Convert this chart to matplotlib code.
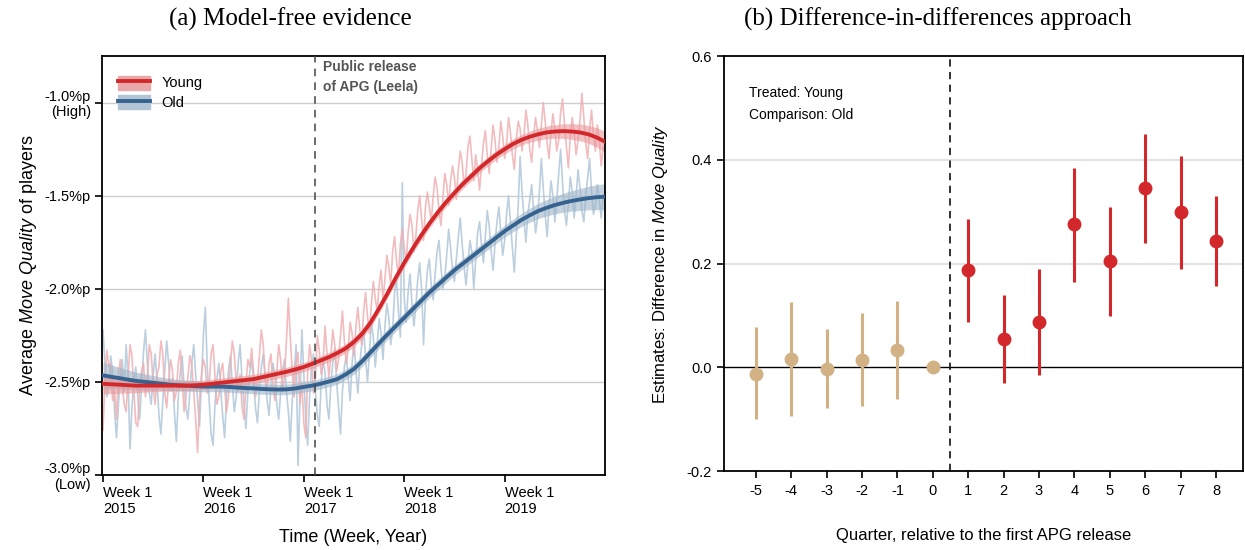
import numpy as np
import matplotlib
matplotlib.use('Agg')
import matplotlib.pyplot as plt
from matplotlib.patches import Patch
from matplotlib.lines import Line2D

plt.rcParams['font.family'] = ['Liberation Sans', 'DejaVu Sans']
plt.rcParams['mathtext.fontset'] = 'custom'
plt.rcParams['mathtext.rm'] = 'Liberation Sans'
plt.rcParams['mathtext.it'] = 'Liberation Sans:italic'

# ---- panel (a): weekly average move quality, 2015-2019 (one row per quarter) ----
young_weekly = [
    -2.76, -2.50, -2.33, -2.42, -2.40, -2.60, -2.55, -2.70, -2.45, -2.38, -2.52, -2.62, -2.66,
    -2.48, -2.30, -2.36, -2.55, -2.72, -2.74, -2.50, -2.44, -2.40, -2.58, -2.47, -2.30, -2.35,
    -2.52, -2.62, -2.46, -2.42, -2.28, -2.35, -2.56, -2.64, -2.50, -2.38, -2.44, -2.60, -2.55,
    -2.40, -2.33, -2.48, -2.66, -2.58, -2.47, -2.36, -2.41, -2.55, -2.70, -2.88, -2.60, -2.46,
    -2.38, -2.42, -2.56, -2.52, -2.35, -2.30, -2.47, -2.62, -2.58, -2.44, -2.40, -2.53, -2.66,
    -2.58, -2.40, -2.28, -2.35, -2.50, -2.55, -2.46, -2.63, -2.70, -2.52, -2.38, -2.42, -2.32,
    -2.45, -2.58, -2.50, -2.36, -2.22, -2.30, -2.48, -2.55, -2.40, -2.35, -2.52, -2.60, -2.45,
    -2.30, -2.38, -2.55, -2.47, -2.28, -2.05, -2.26, -2.44, -2.58, -2.40, -2.34, -2.62, -2.50,
    -2.72, -2.80, -2.45, -2.30, -2.38, -2.56, -2.48, -2.25, -2.33, -2.46, -2.40, -2.20, -2.35,
    -2.48, -2.36, -2.22, -2.30, -2.44, -2.38, -2.25, -2.12, -2.28, -2.40, -2.32, -2.18, -2.24,
    -2.36, -2.20, -2.10, -2.22, -2.30, -2.12, -2.02, -2.15, -2.24, -2.08, -1.96, -2.05, -2.12,
    -1.98, -1.90, -2.06, -1.95, -1.82, -1.88, -1.98, -1.80, -1.72, -1.85, -1.93, -1.76, -1.68,
    -1.78, -1.86, -1.70, -1.60, -1.66, -1.80, -1.72, -1.58, -1.50, -1.62, -1.74, -1.56, -1.48,
    -1.56, -1.64, -1.50, -1.40, -1.46, -1.58, -1.66, -1.52, -1.38, -1.44, -1.55, -1.42, -1.34,
    -1.40, -1.52, -1.36, -1.26, -1.32, -1.45, -1.38, -1.24, -1.18, -1.30, -1.42, -1.28, -1.36,
    -1.47, -1.34, -1.22, -1.15, -1.28, -1.38, -1.25, -1.12, -1.20, -1.32, -1.24, -1.10, -1.18,
    -1.30, -1.22, -1.08, -1.16, -1.28, -1.36, -1.20, -1.10, -1.14, -1.26, -1.18, -1.04, -1.12,
    -1.25, -1.32, -1.18, -1.08, -1.15, -1.24, -1.12, -1.00, -1.10, -1.22, -1.30, -1.16, -1.06,
    -1.14, -1.26, -1.20, -1.05, -0.98, -1.12, -1.24, -1.35, -1.18, -1.08, -1.16, -1.28, -1.20,
    -1.10, -0.95, -1.08, -1.22, -1.30, -1.14, -1.04, -1.18, -1.26, -1.12, -1.20, -1.34, -1.24,
]
old_weekly = [
    -2.22, -2.40, -2.58, -2.52, -2.36, -2.44, -2.66, -2.80, -2.62, -2.45, -2.38, -2.55, -2.30,
    -2.48, -2.86, -2.64, -2.50, -2.42, -2.58, -2.70, -2.52, -2.34, -2.22, -2.40, -2.56, -2.62,
    -2.46, -2.35, -2.50, -2.68, -2.78, -2.60, -2.44, -2.28, -2.40, -2.55, -2.48, -2.66, -2.82,
    -2.58, -2.45, -2.36, -2.52, -2.64, -2.70, -2.55, -2.40, -2.30, -2.46, -2.60, -2.74, -2.50,
    -2.25, -2.10, -2.42, -2.60, -2.78, -2.84, -2.62, -2.48, -2.40, -2.55, -2.68, -2.80, -2.58,
    -2.44, -2.36, -2.52, -2.66, -2.58, -2.40, -2.30, -2.48, -2.62, -2.75, -2.56, -2.45, -2.38,
    -2.50, -2.64, -2.72, -2.55, -2.42, -2.35, -2.48, -2.60, -2.68, -2.52, -2.40, -2.46, -2.62,
    -2.70, -2.56, -2.44, -2.38, -2.55, -2.66, -2.82, -2.60, -2.46, -2.30, -2.95, -2.58, -2.22,
    -2.46, -2.70, -2.84, -2.58, -2.42, -2.35, -2.55, -2.68, -2.74, -2.50, -2.38, -2.45, -2.62,
    -2.70, -2.52, -2.40, -2.32, -2.50, -2.64, -2.78, -2.55, -2.42, -2.36, -2.48, -2.60, -2.40,
    -2.28, -2.44, -2.56, -2.40, -2.30, -2.22, -2.38, -2.50, -2.34, -2.18, -2.26, -2.42, -2.30,
    -2.16, -2.24, -2.38, -2.20, -2.08, -2.15, -2.30, -2.22, -2.02, -1.95, -2.12, -2.26, -1.43,
    -2.05, -2.18, -2.02, -1.92, -2.08, -2.20, -2.10, -1.95, -1.86, -2.00, -2.30, -2.04, -1.90,
    -1.84, -1.98, -2.06, -1.92, -1.80, -1.74, -1.88, -2.00, -1.94, -1.82, -1.68, -1.78, -1.90,
    -1.96, -1.84, -1.72, -1.62, -1.76, -1.88, -1.98, -1.86, -1.74, -1.80, -2.00, -1.85, -1.70,
    -1.64, -1.76, -1.86, -1.72, -1.58, -1.66, -1.80, -1.90, -1.76, -1.64, -1.56, -1.70, -1.82,
    -1.74, -1.60, -1.50, -1.64, -1.78, -1.91, -1.72, -1.56, -1.29, -1.48, -1.62, -1.75, -1.60,
    -1.52, -1.44, -1.58, -1.70, -1.62, -1.48, -1.30, -1.46, -1.60, -1.72, -1.56, -1.42, -1.50,
    -1.64, -1.52, -1.38, -1.25, -1.44, -1.58, -1.66, -1.54, -1.40, -1.48, -1.62, -1.50, -1.36,
    -1.46, -1.58, -1.64, -1.50, -1.40, -1.30, -1.48, -1.60, -1.55, -1.44, -1.52, -1.62, -1.50,
]

# smoothed trend and half-width of its band, monthly from Jan 2015 to Jan 2020
young_smooth = [
    -2.510, -2.513, -2.515, -2.518, -2.520, -2.520, -2.520, -2.520, -2.520, -2.520, -2.520, -2.518,
    -2.515, -2.510, -2.505, -2.500, -2.495, -2.490, -2.485, -2.475, -2.465, -2.455, -2.445, -2.433,
    -2.420, -2.403, -2.385, -2.367, -2.345, -2.320, -2.285, -2.240, -2.180, -2.105, -2.025, -1.940,
    -1.860, -1.785, -1.715, -1.650, -1.590, -1.535, -1.485, -1.437, -1.395, -1.352, -1.315, -1.280,
    -1.250, -1.222, -1.200, -1.183, -1.170, -1.160, -1.155, -1.153, -1.155, -1.160, -1.170, -1.187,
    -1.210,
]
young_band = [
    0.055, 0.050, 0.046, 0.042, 0.038, 0.035, 0.032, 0.030, 0.028, 0.027, 0.026, 0.025,
    0.025, 0.025, 0.025, 0.025, 0.025, 0.025, 0.025, 0.025, 0.025, 0.025, 0.025, 0.025,
    0.025, 0.025, 0.025, 0.025, 0.025, 0.025, 0.025, 0.025, 0.025, 0.025, 0.025, 0.025,
    0.025, 0.025, 0.025, 0.025, 0.025, 0.025, 0.025, 0.025, 0.025, 0.025, 0.025, 0.025,
    0.026, 0.027, 0.028, 0.030, 0.032, 0.034, 0.036, 0.039, 0.042, 0.045, 0.048, 0.052,
    0.056,
]
old_smooth = [
    -2.465, -2.473, -2.480, -2.488, -2.495, -2.500, -2.505, -2.510, -2.515, -2.518, -2.520, -2.523,
    -2.525, -2.525, -2.525, -2.527, -2.530, -2.533, -2.535, -2.538, -2.540, -2.541, -2.540, -2.535,
    -2.527, -2.520, -2.510, -2.498, -2.485, -2.460, -2.430, -2.388, -2.340, -2.292, -2.245, -2.200,
    -2.155, -2.110, -2.065, -2.020, -1.980, -1.940, -1.900, -1.865, -1.830, -1.795, -1.760, -1.725,
    -1.690, -1.660, -1.630, -1.605, -1.582, -1.565, -1.550, -1.538, -1.528, -1.520, -1.513, -1.508,
    -1.505,
]
old_band = [
    0.070, 0.064, 0.058, 0.052, 0.047, 0.043, 0.039, 0.036, 0.033, 0.031, 0.030, 0.029,
    0.028, 0.028, 0.028, 0.028, 0.028, 0.028, 0.028, 0.028, 0.028, 0.028, 0.028, 0.028,
    0.028, 0.028, 0.028, 0.028, 0.028, 0.028, 0.028, 0.028, 0.028, 0.028, 0.028, 0.028,
    0.028, 0.028, 0.028, 0.028, 0.028, 0.028, 0.028, 0.028, 0.028, 0.029, 0.030, 0.031,
    0.032, 0.034, 0.036, 0.038, 0.041, 0.044, 0.047, 0.051, 0.055, 0.059, 0.063, 0.067,
    0.070,
]

release_time = 2017.11
year_ticks = [2015, 2016, 2017, 2018, 2019]
y_ticks_a = [-3.0, -2.5, -2.0, -1.5, -1.0]
y_labels_a = ['-3.0%p\n(Low)', '-2.5%p', '-2.0%p', '-1.5%p', '-1.0%p\n(High)']

# ---- panel (b): event-study estimates ----
quarters = [-5, -4, -3, -2, -1, 0, 1, 2, 3, 4, 5, 6, 7, 8]
estimates = [-0.012, 0.016, -0.003, 0.015, 0.033, 0.0, 0.188, 0.055, 0.087,
             0.276, 0.205, 0.346, 0.299, 0.243]
ci_low = [-0.100, -0.094, -0.079, -0.075, -0.061, 0.0, 0.088, -0.031, -0.015,
          0.165, 0.098, 0.239, 0.190, 0.157]
ci_high = [0.077, 0.125, 0.073, 0.104, 0.127, 0.0, 0.285, 0.139, 0.190,
           0.385, 0.310, 0.450, 0.408, 0.330]

red = '#d3282b'
blue = '#35628f'
tan = '#d2b184'

fig = plt.figure(figsize=(12.45, 5.5), dpi=100)
ax1 = fig.add_axes([0.0819, 0.1364, 0.4041, 0.7616])
ax2 = fig.add_axes([0.5815, 0.1436, 0.4165, 0.7544])

# panel (a)
weeks = 2015 + np.arange(len(young_weekly)) / 52
months = 2015 + np.arange(len(young_smooth)) / 12
ys, yb = np.array(young_smooth), np.array(young_band)
os_, ob = np.array(old_smooth), np.array(old_band)

for y in y_ticks_a[1:]:
    ax1.axhline(y, color='#cccccc', lw=1, zorder=0)
ax1.plot(weeks, old_weekly, color='#bccfdf', lw=1.2, zorder=1)
ax1.plot(weeks, young_weekly, color='#f0b0b3', lw=1.2, alpha=0.85, zorder=1)
ax1.fill_between(months, os_ - ob, os_ + ob, color='#9db4c9', alpha=0.6, lw=0, zorder=2)
ax1.fill_between(months, ys - yb, ys + yb, color='#e9999c', alpha=0.6, lw=0, zorder=2)
ax1.plot(months, old_smooth, color=blue, lw=2.8, zorder=3)
ax1.plot(months, young_smooth, color=red, lw=2.8, zorder=3)
ax1.axvline(release_time, color='#444444', lw=1.1, ls=(0, (5, 4)), zorder=4)
ax1.text(release_time + 0.08, -0.77, 'Public release\nof APG (Leela)', fontsize=10,
         fontweight='bold', color='#555555', va='top', ha='left', linespacing=1.6)

ax1.set_xlim(2014.99, 2020.0)
ax1.set_ylim(-3.0, -0.75)
ax1.set_xticks(year_ticks)
ax1.set_xticklabels(['Week 1\n%d' % y for y in year_ticks], ha='left', fontsize=10.5)
ax1.set_yticks(y_ticks_a)
ax1.set_yticklabels(y_labels_a, fontsize=10.5, multialignment='right', linespacing=1.1)
ax1.tick_params(direction='out', length=5, width=1.2, pad=3)
for s in ax1.spines.values():
    s.set_linewidth(1.3)
ax1.set_xlabel('Time (Week, Year)', fontsize=13, labelpad=9)
ax1.set_ylabel(r'Average $\mathit{Move\ Quality}$ of players', fontsize=13, labelpad=4)

handles = [(Patch(color='#e9a9ab'), Line2D([], [], color=red, lw=2.8)),
           (Patch(color='#b3c4d4'), Line2D([], [], color=blue, lw=2.8))]
ax1.legend(handles, ['Young', 'Old'], loc='upper left', bbox_to_anchor=(0.005, 0.985),
           frameon=False, fontsize=10.5, handlelength=2.2, handleheight=1.1,
           labelspacing=0.3, handletextpad=0.8)

# panel (b)
for y in [0.2, 0.4]:
    ax2.axhline(y, color='#dddddd', lw=1.2, zorder=0)
ax2.axhline(0, color='black', lw=1, zorder=1)
ax2.axvline(0.5, color='#222222', lw=1.3, ls=(0, (4, 3)), zorder=1)
for q, e, lo, hi in zip(quarters, estimates, ci_low, ci_high):
    c = tan if q <= 0 else red
    ax2.plot([q, q], [lo, hi], color=c, lw=2.2, solid_capstyle='butt', zorder=2)
    ax2.plot(q, e, 'o', color=c, markersize=9, zorder=3)
ax2.text(0.048, 0.928, 'Treated: Young\nComparison: Old', transform=ax2.transAxes,
         fontsize=10, va='top', ha='left', linespacing=1.7)

ax2.set_xlim(-5.9, 8.75)
ax2.set_ylim(-0.2, 0.6)
ax2.set_xticks(quarters)
ax2.set_xticklabels([str(q) for q in quarters], fontsize=10.5)
ax2.set_yticks([-0.2, 0.0, 0.2, 0.4, 0.6])
ax2.set_yticklabels(['-0.2', '0.0', '0.2', '0.4', '0.6'], fontsize=10.5)
ax2.tick_params(direction='out', length=5, width=1.2, pad=4)
for s in ax2.spines.values():
    s.set_linewidth(1.3)
ax2.set_xlabel('Quarter, relative to the first APG release', fontsize=12, labelpad=22)
ax2.set_ylabel(r'Estimates: Difference in $\mathit{Move\ Quality}$', fontsize=12, labelpad=12)

fig.text(0.233, 0.965, '(a) Model-free evidence', family='Liberation Serif',
         fontsize=18, ha='center', va='center')
fig.text(0.753, 0.965, '(b) Difference-in-differences approach', family='Liberation Serif',
         fontsize=18, ha='center', va='center')

fig.savefig('out.png', dpi=100)
